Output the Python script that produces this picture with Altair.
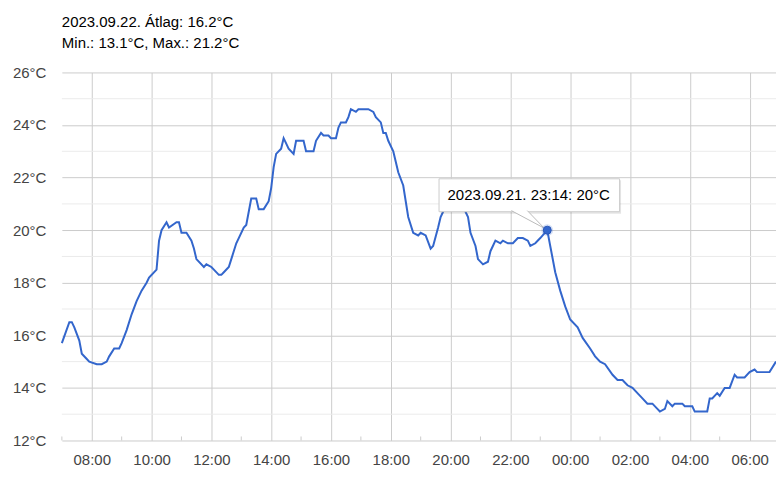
import altair as alt
import pandas as pd

title_line1 = "2023.09.22. Átlag: 16.2°C"
title_line2 = "Min.: 13.1°C, Max.: 21.2°C"

# readings, 2023.09.21 07:00 -> 2023.09.22 06:53
times = [
    "07:00", "07:15", "07:20", "07:25", "07:35", "07:40", "07:50", "07:55",
    "08:10", "08:20", "08:30", "08:35", "08:45", "08:55", "09:00", "09:10",
    "09:20", "09:30", "09:35", "09:40", "09:50", "09:55", "10:10", "10:15",
    "10:20", "10:30", "10:35", "10:50", "10:55", "11:00", "11:10", "11:20",
    "11:25", "11:30", "11:45", "11:50", "12:00", "12:05", "12:15", "12:20",
    "12:25", "12:35", "12:40", "12:50", "12:55", "13:05", "13:10", "13:20",
    "13:30", "13:35", "13:45", "13:55", "14:00", "14:05", "14:10", "14:20",
    "14:25", "14:30", "14:35", "14:45", "14:50", "15:05", "15:10", "15:25",
    "15:30", "15:40", "15:45", "15:55", "16:00", "16:10", "16:15", "16:20",
    "16:30", "16:35", "16:40", "16:50", "16:55", "17:15", "17:25", "17:30",
    "17:40", "17:45", "17:50", "17:55", "18:05", "18:10", "18:15", "18:25",
    "18:30", "18:35", "18:45", "18:55", "19:00", "19:10", "19:20", "19:25",
    "19:35", "19:40", "19:50", "20:00", "20:10", "20:20", "20:30", "20:35",
    "20:40", "20:50", "20:55", "21:05", "21:15", "21:20", "21:30", "21:40",
    "21:45", "21:55", "22:05", "22:15", "22:25", "22:35", "22:40", "22:50",
    "23:00", "23:14", "23:20", "23:30", "23:40", "23:50", "00:00", "00:15",
    "00:25", "00:40", "00:50", "01:00", "01:10", "01:25", "01:35", "01:45",
    "01:55", "02:05", "02:15", "02:25", "02:35", "02:45", "02:55", "03:00",
    "03:10", "03:15", "03:25", "03:30", "03:45", "03:50", "04:05", "04:10",
    "04:35", "04:40", "04:45", "04:55", "05:00", "05:10", "05:20", "05:30",
    "05:35", "05:50", "06:00", "06:10", "06:15", "06:40", "06:53",
]
temps = [
    15.7, 16.5, 16.5, 16.3, 15.8, 15.3, 15.1, 15.0,
    14.9, 14.9, 15.0, 15.2, 15.5, 15.5, 15.7, 16.2,
    16.8, 17.3, 17.5, 17.7, 18.0, 18.2, 18.5, 19.6,
    20.0, 20.3, 20.1, 20.3, 20.3, 19.9, 19.9, 19.6,
    19.3, 18.9, 18.6, 18.7, 18.6, 18.5, 18.3, 18.3,
    18.4, 18.6, 18.9, 19.5, 19.7, 20.1, 20.2, 21.2,
    21.2, 20.8, 20.8, 21.1, 21.6, 22.4, 22.9, 23.1,
    23.5, 23.3, 23.1, 22.9, 23.4, 23.4, 23.0, 23.0,
    23.4, 23.7, 23.6, 23.6, 23.5, 23.5, 23.9, 24.1,
    24.1, 24.3, 24.6, 24.5, 24.6, 24.6, 24.5, 24.3,
    24.1, 23.7, 23.7, 23.4, 23.0, 22.6, 22.2, 21.7,
    21.1, 20.5, 19.9, 19.8, 19.9, 19.8, 19.3, 19.4,
    20.1, 20.5, 20.9, 21.1, 21.2, 21.0, 20.7, 20.5,
    19.9, 19.4, 18.9, 18.7, 18.8, 19.2, 19.6, 19.5,
    19.6, 19.5, 19.5, 19.7, 19.7, 19.6, 19.4, 19.5,
    19.7, 20.0, 19.4, 18.4, 17.7, 17.1, 16.6, 16.3,
    15.9, 15.5, 15.2, 15.0, 14.9, 14.5, 14.3, 14.3,
    14.1, 14.0, 13.8, 13.6, 13.4, 13.4, 13.2, 13.1,
    13.2, 13.5, 13.3, 13.4, 13.4, 13.3, 13.3, 13.1,
    13.1, 13.6, 13.6, 13.8, 13.7, 14.0, 14.0, 14.5,
    14.4, 14.4, 14.6, 14.7, 14.6, 14.6, 15.0,
]

y_major = [12, 14, 16, 18, 20, 22, 24, 26]
y_minor = [13, 15, 17, 19, 21, 23, 25]
x_tick_times = ["08:00", "10:00", "12:00", "14:00", "16:00", "18:00",
                "20:00", "22:00", "00:00", "02:00", "04:00", "06:00"]
minor_tick_times = ["07:00", "09:00", "11:00", "13:00", "15:00", "17:00",
                    "19:00", "21:00", "23:00", "01:00", "03:00", "05:00"]

hover_time = "23:14"
hover_temp = 20
hover_label = "2023.09.21. 23:14: 20°C"

FONT = "Arial, Liberation Sans, sans-serif"
FS = 15
BLUE = "#3366cc"
GRID = "#cccccc"


def day_of(hhmm):
    return 21 if int(hhmm[:2]) >= 7 else 22


def to_stamp(hhmm):
    return f"2023-09-{day_of(hhmm)}T{hhmm}:00"


def to_dt(hhmm):
    return alt.DateTime(year=2023, month=9, date=day_of(hhmm),
                        hours=int(hhmm[:2]), minutes=int(hhmm[3:]))


df = pd.DataFrame({"time": [to_stamp(t) for t in times], "temp": temps})
ticks_df = pd.DataFrame({"time": [to_stamp(t) for t in minor_tick_times]})
minor_grid_df = pd.DataFrame({"temp": y_minor})
hover_df = pd.DataFrame({
    "time": [to_stamp(hover_time)],
    "temp": [hover_temp],
    "label": [hover_label],
})

x_enc = alt.X(
    "time:T",
    scale=alt.Scale(nice=False),
    axis=alt.Axis(
        title=None,
        format="%H:%M",
        values=[to_dt(t) for t in x_tick_times],
        grid=True,
        gridColor=GRID,
        domain=False,
        ticks=False,
        tickSize=0,
        labelPadding=12,
        labelFont=FONT,
        labelFontSize=FS,
        labelColor="#444444",
    ),
)
y_enc = alt.Y(
    "temp:Q",
    scale=alt.Scale(domain=[y_major[0], y_major[-1]], nice=False, zero=False),
    axis=alt.Axis(
        title=None,
        values=y_major,
        labelExpr="datum.value + '°C'",
        grid=True,
        gridColor=GRID,
        domain=False,
        ticks=False,
        tickSize=0,
        labelPadding=16,
        labelFont=FONT,
        labelFontSize=FS,
        labelColor="#444444",
    ),
)

minor_grid = alt.Chart(minor_grid_df).mark_rule(color="#ebebeb").encode(y="temp:Q")

line = alt.Chart(df).mark_line(color=BLUE, strokeWidth=2).encode(x=x_enc, y=y_enc)

minor_ticks = alt.Chart(ticks_df).mark_rule(color=GRID, y2Offset=-4).encode(
    x="time:T", y=alt.datum(y_major[0]), y2=alt.datum(y_major[0])
)

hb = alt.Chart(hover_df).encode(x="time:T", y="temp:Q")
shadow = hb.mark_rect(
    fill="#000000", opacity=0.1,
    xOffset=-107, x2Offset=74, yOffset=-50, y2Offset=-16.5,
).encode(x2="time:T", y2="temp:Q")
box = hb.mark_rect(
    fill="white", stroke=GRID, strokeWidth=1,
    xOffset=-108.5, x2Offset=72.5, yOffset=-51.5, y2Offset=-18.5,
).encode(x2="time:T", y2="temp:Q")
tail = hb.mark_point(
    shape="M -36 -19.6 L -3 -2 L -20 -19.6",
    size=4, filled=True, fill="white", stroke="#bbbbbb",
    strokeWidth=1, opacity=1,
)
halo = hb.mark_circle(size=140, color=BLUE, opacity=0.2)
dot = hb.mark_circle(size=64, color=BLUE, opacity=1, stroke="#2b58b8", strokeWidth=1)
tip_text = hb.mark_text(
    align="left", baseline="alphabetic", dx=-100, dy=-30,
    font=FONT, fontSize=FS, color="#000000",
).encode(text="label")

t1 = alt.Chart(pd.DataFrame({"t": [title_line1]})).mark_text(
    align="left", baseline="alphabetic", font=FONT, fontSize=FS, color="#000000"
).encode(x=alt.value(0), y=alt.value(-46), text="t")
t2 = alt.Chart(pd.DataFrame({"t": [title_line2]})).mark_text(
    align="left", baseline="alphabetic", font=FONT, fontSize=FS, color="#000000"
).encode(x=alt.value(0), y=alt.value(-25), text="t")

chart = (
    alt.layer(minor_grid, line, minor_ticks, shadow, box, tail, halo, dot,
              tip_text, t1, t2)
    .properties(
        width=716,
        height=369,
        padding={"left": 54, "top": 64, "right": 0, "bottom": 30},
        autosize=alt.AutoSizeParams(type="none"),
        background="white",
    )
    .configure_view(stroke=None)
)

chart.save("out.html", embed_options={"renderer": "svg", "actions": False})
